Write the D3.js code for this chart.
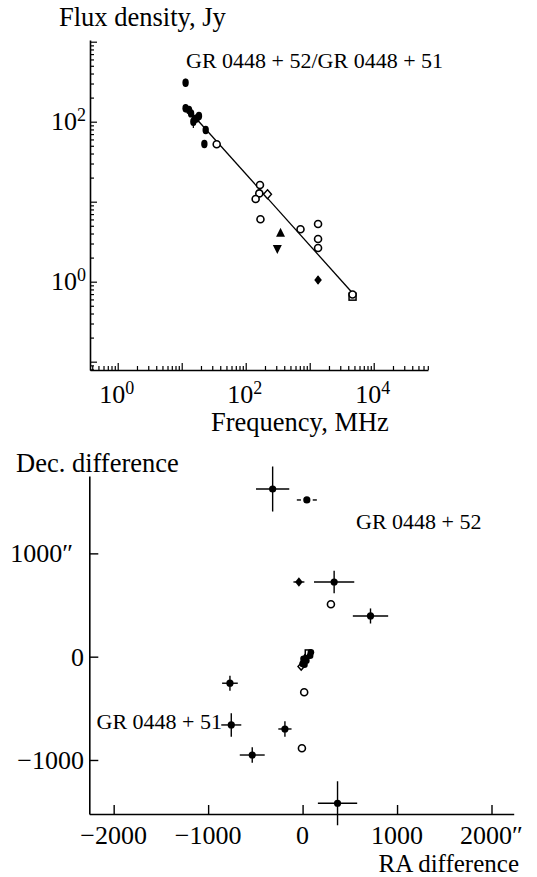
<!DOCTYPE html>
<html><head><meta charset="utf-8">
<script src="https://cdn.jsdelivr.net/npm/d3@7"></script>
<style>
html,body{margin:0;padding:0;background:#fff;}
svg{display:block;}
text{font-family:"Liberation Serif","Times New Roman",serif;fill:#000;}
</style></head>
<body>
<svg id="chart" width="537" height="877"></svg>
<script>
// ---------- Top panel: spectrum ----------
const topFreq = [11.5, 11.5, 13.0, 14.0, 15.2, 16.0, 17.1, 18.6, 23.7, 22.6, 35.2, 167, 163, 219, 143, 170, 350, 312, 718, 1350, 1350, 1350, 1350, 4670, 4670];
const topFlux = [307, 147, 140, 127, 100, 108, 110, 118, 78.8, 52.6, 52.2, 16.2, 12.7, 12.4, 10.8, 6.04, 4.10, 2.56, 4.52, 5.26, 3.42, 2.64, 1.05, 0.65, 0.69];
const topSym  = ['fe','fe','fe','fe','fe','fe','fe','fe','fe','fe','oc','oc','oc','od','oc','oc','tu','td','oc','oc','oc','oc','fd','os','oc'];
const topErr  = [1.12, 1.12, 1.1, 1.1, 1.2, 1.1, 1.1, 1.1, 1.08, 0, 0, 0, 0, 0, 0, 0, 0, 0, 0, 0, 0, 0, 1.12, 0, 0];
const fitFreq = [18.2, 4700];
const fitFlux = [102, 0.716];
const topXLabels = [0, 2, 4];   // exponents labelled
const topYLabels = [0, 2];
const topTitleY = "Flux density, Jy";
const topTitleX = "Frequency, MHz";
const topNote = "GR 0448 + 52/GR 0448 + 51";

// ---------- Bottom panel: positions ----------
const raDiff  = [-317, 45, -39, 334, 300, 719, -769, -755, -533, -187, 17, -7, 370,
                 -15, 0, 12, 25, 35, 45, 60, 72, 58, 88, 40, 20, 80, 10];
const decDiff = [1623, 1517, 723, 723, 507, 394, -257, -661, -952, -700, -345, -887, -1419,
                 -95, -70, -50, -30, -15, 0, 15, 30, 38, 42, -40, -78, 10, -20];
const raErr   = [176, 106, 58, 213, 0, 187, 83, 106, 132, 70, 0, 0, 208,
                 0, 0, 0, 0, 0, 0, 0, 0, 0, 0, 0, 0, 0, 0];
const decErr  = [218, 0, 0, 108, 0, 73, 73, 113, 74, 76, 0, 0, 213,
                 0, 0, 0, 0, 0, 0, 0, 0, 0, 0, 0, 0, 0, 0];
const posSym  = ['fc','fch','fd','fc','oc','fc','fc','fc','fc','fc','oc','oc','fc',
                 'od','fs','fs','fs','fs','fs','fs','fs','os','fs','fs','fs','fs','fs'];
const botXTicks = [-2000, -1000, 0, 1000, 2000];
const botYTicks = [-1000, 0, 1000];
const botTitleY = "Dec. difference";
const botTitleX = "RA difference";
const note52 = "GR 0448 + 52";
const note51 = "GR 0448 + 51";

const svg = d3.select("#chart");
const TICKF = 26, SUPF = 18, TITLEF = 26.5, NOTEF = 22;

// ===== TOP =====
const xT = d3.scaleLog().domain([0.369, 70500]).range([90, 428]);
const yT = d3.scaleLog().domain([0.0787, 1050]).range([370, 40]);
const gT = svg.append("g");

function logMinor(scale){
  const [a,b] = scale.domain(); const out=[];
  for(let k=Math.floor(Math.log10(a)); k<=Math.ceil(Math.log10(b)); k++){
    for(let m=1;m<=9;m++){ const v=m*Math.pow(10,k); if(v>=a*0.999 && v<=b*1.001) out.push(v); }
  }
  return out;
}
const isMajor = v => Math.abs(Math.log10(v) - Math.round(Math.log10(v))) < 1e-6;

const xAxisT = d3.axisBottom(xT).tickValues(logMinor(xT)).tickSizeOuter(0).tickSizeInner(-4).tickFormat("");
const gxT = gT.append("g").attr("transform","translate(0,370)").call(xAxisT);
gxT.selectAll(".tick line").attr("y2", d => isMajor(d) ? -7 : -4);
const yAxisT = d3.axisLeft(yT).tickValues(logMinor(yT)).tickSizeOuter(0).tickSizeInner(-4).tickFormat("");
const gyT = gT.append("g").attr("transform","translate(90,0)").call(yAxisT);
gyT.selectAll(".tick line").attr("x2", d => isMajor(d) ? 7 : 4);
[gxT, gyT].forEach(g => { g.select(".domain").attr("stroke","#000").attr("stroke-width",1.6);
  g.selectAll(".tick line").attr("stroke","#000").attr("stroke-width",1.2); });

topXLabels.forEach(e => {
  const t = gT.append("text").attr("x", xT(Math.pow(10,e)) - 1).attr("y", 403)
    .attr("text-anchor","middle").attr("font-size",TICKF);
  t.append("tspan").text("10");
  t.append("tspan").attr("font-size",SUPF).attr("dy",-9).text(e);
});
topYLabels.forEach(e => {
  const t = gT.append("text").attr("x", 86).attr("y", yT(Math.pow(10,e)) + 8)
    .attr("text-anchor","end").attr("font-size",TICKF);
  t.append("tspan").text("10");
  t.append("tspan").attr("font-size",SUPF).attr("dy",-9).text(e);
});
gT.append("text").attr("x",59).attr("y",26).attr("font-size",TITLEF).text(topTitleY);
gT.append("text").attr("x",211).attr("y",431).attr("font-size",TITLEF).text(topTitleX);
gT.append("text").attr("x",186).attr("y",68).attr("font-size",NOTEF).text(topNote);

gT.append("line").attr("x1",xT(fitFreq[0])).attr("y1",yT(fitFlux[0]))
  .attr("x2",xT(fitFreq[1])).attr("y2",yT(fitFlux[1])).attr("stroke","#000").attr("stroke-width",1.3);

function marker(g, sym, cx, cy, s){
  s = s || 1;
  if(sym==='fe') g.append("ellipse").attr("cx",cx).attr("cy",cy).attr("rx",3.2*s).attr("ry",4.2*s).attr("fill","#000");
  else if(sym==='fc') g.append("circle").attr("cx",cx).attr("cy",cy).attr("r",3.6*s).attr("fill","#000");
  else if(sym==='fch') g.append("circle").attr("cx",cx).attr("cy",cy).attr("r",4.8*s).attr("fill","#000").attr("stroke","#fff").attr("stroke-width",2.4);
  else if(sym==='fs') g.append("circle").attr("cx",cx).attr("cy",cy).attr("r",3.3*s).attr("fill","#000");
  else if(sym==='oc') g.append("circle").attr("cx",cx).attr("cy",cy).attr("r",3.5*s).attr("fill","#fff").attr("stroke","#000").attr("stroke-width",1.6);
  else if(sym==='od') g.append("path").attr("d",`M${cx},${cy-4.5*s}L${cx+4*s},${cy}L${cx},${cy+4.5*s}L${cx-4*s},${cy}Z`).attr("fill","#fff").attr("stroke","#000").attr("stroke-width",1.4);
  else if(sym==='fd') g.append("path").attr("d",`M${cx},${cy-4.8*s}L${cx+3.8*s},${cy}L${cx},${cy+4.8*s}L${cx-3.8*s},${cy}Z`).attr("fill","#000");
  else if(sym==='os') g.append("rect").attr("x",cx-3.5*s).attr("y",cy-3.5*s).attr("width",7*s).attr("height",7*s).attr("fill","#fff").attr("stroke","#000").attr("stroke-width",1.5);
  else if(sym==='tu') g.append("path").attr("d",`M${cx},${cy-5}L${cx+4.5},${cy+4}L${cx-4.5},${cy+4}Z`).attr("fill","#000");
  else if(sym==='td') g.append("path").attr("d",`M${cx},${cy+5}L${cx+4.5},${cy-4}L${cx-4.5},${cy-4}Z`).attr("fill","#000");
}
const gPts = gT.append("g");
topFreq.forEach((f,i) => {
  const cx = xT(f), cy = yT(topFlux[i]);
  if(topErr[i] > 0){
    gPts.append("line").attr("x1",cx).attr("x2",cx)
      .attr("y1",yT(topFlux[i]*topErr[i])).attr("y2",yT(topFlux[i]/topErr[i]))
      .attr("stroke","#000").attr("stroke-width",1.2);
  }
  marker(gPts, topSym[i], cx, cy);
});

// ===== BOTTOM =====
const xB = d3.scaleLinear().domain([-2258, 2235]).range([89.3, 513.7]);
const yB = d3.scaleLinear().domain([-1523, 1749]).range([814, 476]);
const gB = svg.append("g");
const fmt = v => (v<0 ? "\u2212" + Math.abs(v) : String(v));

const xAxisB = d3.axisBottom(xB).tickValues(botXTicks).tickSizeOuter(0).tickSizeInner(-9).tickFormat("");
const gxB = gB.append("g").attr("transform","translate(0,814)").call(xAxisB);
const yAxisB = d3.axisLeft(yB).tickValues(botYTicks).tickSizeOuter(0).tickSizeInner(-9).tickFormat("");
const gyB = gB.append("g").attr("transform","translate(89.3,0)").call(yAxisB);
[gxB, gyB].forEach(g => { g.select(".domain").attr("stroke","#000").attr("stroke-width",1.6);
  g.selectAll(".tick line").attr("stroke","#000").attr("stroke-width",1.4); });

const maxX = d3.max(botXTicks), maxY = d3.max(botYTicks);
botXTicks.forEach(v => {
  gB.append("text").attr("x", xB(v)).attr("y", 843.5).attr("text-anchor","middle")
    .attr("font-size",TICKF).text(fmt(v) + (v===maxX ? "\u2033" : ""));
});
botYTicks.forEach(v => {
  gB.append("text").attr("x", v===maxY ? 73 : 84).attr("y", yB(v) + 9).attr("text-anchor","end")
    .attr("font-size",TICKF).text(fmt(v) + (v===maxY ? "\u2033" : ""));
});
gB.append("text").attr("x",16).attr("y",472).attr("font-size",TITLEF).text(botTitleY);
gB.append("text").attr("x",519).attr("y",871.5).attr("text-anchor","end").attr("font-size",25).text(botTitleX);
gB.append("text").attr("x",356).attr("y",529).attr("font-size",NOTEF).text(note52);
gB.append("text").attr("x",222).attr("y",729).attr("text-anchor","end").attr("font-size",NOTEF).text(note51);

const gP = gB.append("g");
raDiff.forEach((ra,i) => {
  const cx = xB(ra), cy = yB(decDiff[i]);
  if(raErr[i] > 0) gP.append("line").attr("x1",xB(ra-raErr[i])).attr("x2",xB(ra+raErr[i]))
      .attr("y1",cy).attr("y2",cy).attr("stroke","#000").attr("stroke-width",1.4);
  if(decErr[i] > 0) gP.append("line").attr("x1",cx).attr("x2",cx)
      .attr("y1",yB(decDiff[i]-decErr[i])).attr("y2",yB(decDiff[i]+decErr[i])).attr("stroke","#000").attr("stroke-width",1.4);
});
raDiff.forEach((ra,i) => marker(gP, posSym[i], xB(ra), yB(decDiff[i]), posSym[i]==='od'||posSym[i]==='os' ? 0.8 : 1));
</script>
</body></html>
